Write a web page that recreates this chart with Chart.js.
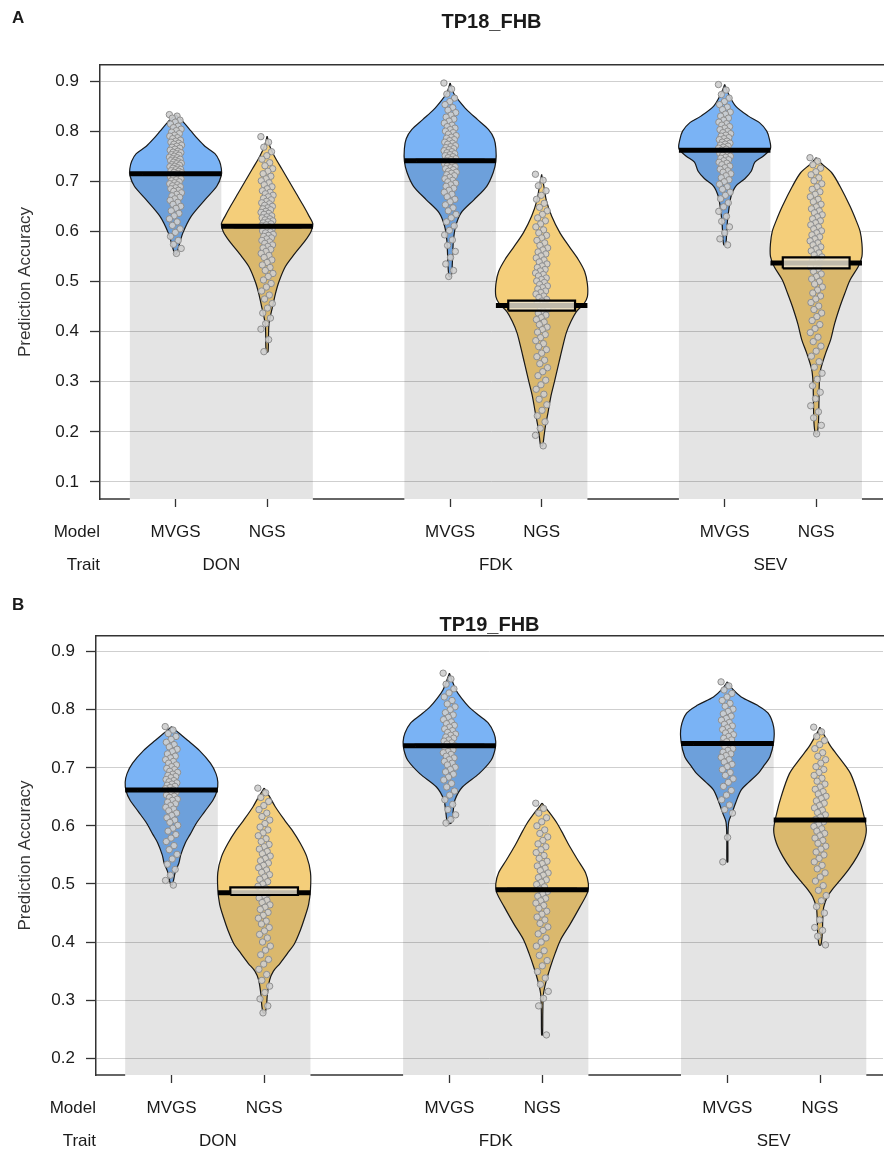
<!DOCTYPE html>
<html lang="en">
<head>
<meta charset="UTF-8">
<title>TP18_FHB / TP19_FHB prediction accuracy</title>
<script src="https://cdn.jsdelivr.net/npm/chart.js"></script>
<style>
  body { margin: 0; background: #fff; }
  canvas { position: absolute; left: 0; }
</style>
</head>
<body>
<canvas id="chartA" width="888" height="590" style="top:0"></canvas>
<canvas id="chartB" width="888" height="560" style="top:590px"></canvas>
<script>
// ---- data ----
const traits = ['DON', 'FDK', 'SEV'];
const models = ['MVGS', 'NGS'];
const rowNames = ['Model', 'Trait'];
const yTicksA = [0.1, 0.2, 0.3, 0.4, 0.5, 0.6, 0.7, 0.8, 0.9];
const yTicksB = [0.2, 0.3, 0.4, 0.5, 0.6, 0.7, 0.8, 0.9];

// means and HDI box (order: DON MVGS, DON NGS, FDK MVGS, FDK NGS, SEV MVGS, SEV NGS)
const meansA = [0.715, 0.610, 0.741, 0.452, 0.762, 0.537];
const boxLowA = [0.7135, 0.6085, 0.7395, 0.442, 0.7605, 0.526];
const boxHighA = [0.7165, 0.6115, 0.7425, 0.462, 0.7635, 0.548];
const meansB = [0.662, 0.485, 0.738, 0.490, 0.742, 0.610];
const boxLowB = [0.6605, 0.481, 0.7365, 0.4885, 0.7405, 0.6085];
const boxHighB = [0.6635, 0.494, 0.7395, 0.4915, 0.7435, 0.6115];

// bean outlines: [accuracy, half width as share of a slot]
const donMvgsA = [[0.833,0],[0.825,0.05],[0.815,0.1],[0.8,0.17],[0.785,0.24],[0.77,0.32],[0.755,0.43],[0.74,0.48],[0.725,0.5],[0.712,0.5],[0.69,0.45],[0.663,0.32],[0.63,0.17],[0.597,0.08],[0.57,0.035],[0.555,0.01]];
const donNgsA = [[0.79,0],[0.77,0.03],[0.75,0.08],[0.725,0.16],[0.7,0.24],[0.675,0.32],[0.65,0.4],[0.63,0.46],[0.615,0.5],[0.6,0.48],[0.58,0.41],[0.555,0.3],[0.53,0.2],[0.5,0.13],[0.475,0.09],[0.45,0.06],[0.43,0.035],[0.415,0.02],[0.39,0.015],[0.36,0.01]];
const fdkMvgsA = [[0.896,0],[0.875,0.04],[0.86,0.1],[0.843,0.18],[0.823,0.3],[0.803,0.42],[0.785,0.48],[0.765,0.5],[0.74,0.5],[0.717,0.47],[0.69,0.4],[0.663,0.26],[0.637,0.12],[0.61,0.06],[0.58,0.035],[0.54,0.025],[0.51,0.012]];
const fdkNgsA = [[0.714,0],[0.69,0.025],[0.663,0.05],[0.63,0.11],[0.597,0.2],[0.57,0.3],[0.544,0.4],[0.52,0.47],[0.495,0.5],[0.47,0.5],[0.455,0.46],[0.44,0.38],[0.42,0.32],[0.398,0.27],[0.37,0.23],[0.339,0.19],[0.3,0.14],[0.27,0.1],[0.239,0.07],[0.21,0.04],[0.19,0.025],[0.172,0.01]];
const sevMvgsA = [[0.893,0],[0.875,0.04],[0.85,0.12],[0.83,0.26],[0.817,0.38],[0.8,0.46],[0.783,0.49],[0.765,0.5],[0.75,0.42],[0.738,0.33],[0.72,0.29],[0.705,0.22],[0.69,0.12],[0.67,0.07],[0.65,0.05],[0.62,0.03],[0.59,0.02],[0.573,0.01]];
const sevNgsA = [[0.747,0],[0.735,0.06],[0.717,0.17],[0.69,0.26],[0.65,0.37],[0.62,0.44],[0.6,0.48],[0.575,0.5],[0.55,0.5],[0.53,0.46],[0.503,0.37],[0.475,0.31],[0.45,0.26],[0.415,0.2],[0.385,0.16],[0.355,0.1],[0.325,0.05],[0.3,0.035],[0.26,0.03],[0.22,0.025],[0.196,0.01]];
const donMvgsB = [[0.771,0],[0.76,0.08],[0.748,0.17],[0.73,0.3],[0.708,0.42],[0.69,0.48],[0.675,0.5],[0.66,0.49],[0.645,0.45],[0.625,0.36],[0.605,0.27],[0.585,0.2],[0.571,0.15],[0.55,0.1],[0.536,0.08],[0.52,0.04],[0.505,0.02],[0.498,0.005]];
const donNgsB = [[0.665,0],[0.65,0.06],[0.633,0.12],[0.61,0.22],[0.593,0.3],[0.57,0.39],[0.547,0.46],[0.52,0.5],[0.49,0.5],[0.465,0.48],[0.443,0.44],[0.42,0.39],[0.398,0.33],[0.38,0.25],[0.363,0.17],[0.35,0.1],[0.335,0.06],[0.31,0.035],[0.29,0.025],[0.278,0.01]];
const fdkMvgsB = [[0.863,0],[0.85,0.03],[0.834,0.07],[0.82,0.13],[0.805,0.21],[0.79,0.32],[0.777,0.42],[0.76,0.48],[0.745,0.5],[0.73,0.49],[0.713,0.45],[0.69,0.32],[0.667,0.14],[0.645,0.06],[0.625,0.04],[0.605,0.02]];
const fdkNgsB = [[0.639,0],[0.625,0.07],[0.605,0.16],[0.585,0.23],[0.564,0.3],[0.54,0.39],[0.519,0.47],[0.5,0.5],[0.485,0.49],[0.461,0.41],[0.43,0.3],[0.404,0.2],[0.38,0.14],[0.357,0.09],[0.33,0.04],[0.31,0.015],[0.28,0.008],[0.24,0.005]];
const sevMvgsB = [[0.848,0],[0.835,0.06],[0.822,0.15],[0.808,0.32],[0.794,0.44],[0.77,0.5],[0.745,0.5],[0.719,0.46],[0.705,0.4],[0.69,0.33],[0.675,0.23],[0.662,0.15],[0.64,0.09],[0.622,0.05],[0.607,0.015],[0.58,0.006],[0.538,0.005]];
const sevNgsB = [[0.77,0],[0.755,0.05],[0.736,0.12],[0.715,0.22],[0.69,0.33],[0.65,0.42],[0.62,0.47],[0.593,0.5],[0.57,0.47],[0.547,0.4],[0.525,0.31],[0.507,0.22],[0.49,0.13],[0.478,0.08],[0.46,0.04],[0.44,0.03],[0.415,0.025],[0.395,0.01]];

// raw accuracies (estimated from the point clouds)
const donMvgsPtsA = [0.833,0.83,0.826,0.822,0.818,0.814,0.81,0.807,0.804,0.801,0.798,0.795,0.792,0.79,0.787,0.785,0.782,0.78,0.778,0.776,0.774,0.772,0.77,0.768,0.766,0.764,0.762,0.76,0.758,0.757,0.755,0.753,0.752,0.75,0.748,0.747,0.745,0.744,0.742,0.741,0.739,0.738,0.736,0.735,0.733,0.732,0.73,0.729,0.727,0.726,0.724,0.723,0.721,0.72,0.718,0.717,0.715,0.714,0.712,0.711,0.709,0.708,0.706,0.705,0.703,0.701,0.699,0.697,0.695,0.693,0.691,0.689,0.687,0.685,0.682,0.68,0.677,0.674,0.671,0.668,0.665,0.662,0.658,0.654,0.65,0.646,0.641,0.636,0.631,0.625,0.619,0.612,0.605,0.598,0.59,0.582,0.574,0.566,0.556];
const donNgsPtsA = [0.789,0.778,0.768,0.759,0.751,0.744,0.737,0.731,0.725,0.72,0.715,0.71,0.705,0.701,0.697,0.693,0.689,0.685,0.681,0.678,0.675,0.672,0.669,0.666,0.663,0.66,0.657,0.655,0.652,0.65,0.647,0.645,0.643,0.64,0.638,0.636,0.634,0.631,0.629,0.627,0.625,0.623,0.621,0.619,0.617,0.615,0.613,0.611,0.609,0.607,0.605,0.603,0.601,0.599,0.597,0.594,0.592,0.59,0.587,0.585,0.582,0.579,0.576,0.573,0.57,0.567,0.564,0.56,0.556,0.552,0.548,0.543,0.538,0.533,0.528,0.522,0.516,0.51,0.503,0.496,0.489,0.481,0.473,0.465,0.456,0.447,0.437,0.427,0.416,0.405,0.384,0.36];
const fdkMvgsPtsA = [0.896,0.884,0.874,0.866,0.859,0.853,0.847,0.842,0.837,0.832,0.828,0.824,0.82,0.816,0.812,0.809,0.806,0.803,0.8,0.797,0.794,0.791,0.788,0.786,0.783,0.781,0.778,0.776,0.774,0.771,0.769,0.767,0.765,0.763,0.761,0.759,0.757,0.755,0.753,0.751,0.749,0.747,0.745,0.743,0.741,0.739,0.737,0.735,0.733,0.731,0.729,0.727,0.725,0.723,0.72,0.718,0.716,0.713,0.711,0.708,0.705,0.702,0.699,0.696,0.693,0.69,0.686,0.682,0.678,0.674,0.669,0.664,0.659,0.653,0.647,0.641,0.634,0.627,0.619,0.611,0.602,0.593,0.583,0.572,0.56,0.548,0.535,0.522,0.51];
const fdkNgsPtsA = [0.714,0.702,0.691,0.681,0.672,0.664,0.656,0.648,0.641,0.634,0.627,0.621,0.615,0.609,0.603,0.597,0.592,0.587,0.582,0.577,0.572,0.567,0.563,0.559,0.555,0.551,0.547,0.543,0.539,0.535,0.531,0.528,0.524,0.521,0.517,0.514,0.511,0.507,0.504,0.501,0.498,0.494,0.491,0.488,0.485,0.481,0.478,0.475,0.471,0.468,0.464,0.461,0.457,0.453,0.449,0.445,0.441,0.437,0.433,0.428,0.424,0.419,0.414,0.409,0.404,0.399,0.394,0.388,0.382,0.376,0.37,0.364,0.357,0.35,0.343,0.336,0.328,0.32,0.312,0.303,0.294,0.285,0.275,0.265,0.254,0.243,0.232,0.22,0.207,0.193,0.172];
const sevMvgsPtsA = [0.893,0.882,0.873,0.866,0.859,0.853,0.848,0.843,0.838,0.834,0.83,0.826,0.822,0.818,0.815,0.812,0.809,0.806,0.803,0.8,0.797,0.795,0.792,0.79,0.787,0.785,0.783,0.78,0.778,0.776,0.774,0.772,0.77,0.768,0.766,0.764,0.762,0.76,0.758,0.756,0.754,0.752,0.75,0.748,0.746,0.743,0.741,0.738,0.736,0.733,0.73,0.727,0.724,0.721,0.718,0.715,0.711,0.707,0.703,0.699,0.694,0.689,0.684,0.678,0.672,0.665,0.657,0.649,0.64,0.63,0.62,0.609,0.597,0.585,0.573];
const sevNgsPtsA = [0.747,0.74,0.733,0.726,0.719,0.713,0.707,0.701,0.695,0.689,0.684,0.679,0.674,0.669,0.664,0.659,0.654,0.649,0.645,0.641,0.637,0.633,0.629,0.625,0.621,0.617,0.613,0.609,0.605,0.601,0.597,0.593,0.589,0.585,0.581,0.577,0.573,0.569,0.565,0.561,0.557,0.553,0.549,0.545,0.541,0.537,0.533,0.529,0.525,0.52,0.515,0.51,0.505,0.5,0.495,0.489,0.483,0.477,0.471,0.465,0.458,0.451,0.444,0.437,0.43,0.422,0.414,0.406,0.398,0.389,0.38,0.371,0.361,0.351,0.34,0.329,0.317,0.305,0.292,0.279,0.266,0.252,0.24,0.228,0.213,0.196];
const donMvgsPtsB = [0.771,0.765,0.759,0.754,0.749,0.744,0.74,0.736,0.732,0.728,0.724,0.72,0.717,0.714,0.711,0.708,0.705,0.702,0.699,0.697,0.694,0.692,0.689,0.687,0.685,0.683,0.68,0.678,0.676,0.674,0.672,0.67,0.668,0.666,0.664,0.662,0.66,0.658,0.656,0.653,0.651,0.649,0.646,0.644,0.641,0.638,0.635,0.632,0.629,0.626,0.622,0.618,0.614,0.61,0.606,0.601,0.596,0.591,0.585,0.579,0.573,0.566,0.559,0.551,0.543,0.534,0.525,0.515,0.506,0.498];
const donNgsPtsB = [0.665,0.657,0.649,0.642,0.635,0.628,0.622,0.616,0.61,0.604,0.598,0.593,0.588,0.583,0.578,0.573,0.568,0.564,0.56,0.556,0.552,0.548,0.544,0.54,0.536,0.532,0.528,0.524,0.52,0.516,0.512,0.508,0.504,0.5,0.496,0.492,0.488,0.484,0.48,0.476,0.472,0.468,0.464,0.46,0.456,0.451,0.446,0.441,0.436,0.431,0.425,0.419,0.413,0.407,0.4,0.393,0.386,0.378,0.37,0.362,0.353,0.344,0.334,0.324,0.313,0.302,0.29,0.278];
const fdkMvgsPtsB = [0.863,0.853,0.844,0.836,0.829,0.822,0.816,0.81,0.805,0.8,0.795,0.791,0.787,0.783,0.779,0.776,0.773,0.77,0.767,0.764,0.761,0.758,0.756,0.753,0.751,0.748,0.746,0.743,0.741,0.738,0.736,0.733,0.731,0.728,0.726,0.723,0.72,0.717,0.714,0.711,0.708,0.705,0.701,0.697,0.693,0.689,0.684,0.679,0.673,0.667,0.66,0.653,0.645,0.637,0.628,0.619,0.611,0.605];
const fdkNgsPtsB = [0.639,0.63,0.622,0.614,0.607,0.6,0.593,0.587,0.581,0.575,0.569,0.564,0.559,0.554,0.549,0.544,0.539,0.535,0.531,0.527,0.523,0.519,0.515,0.511,0.507,0.503,0.499,0.495,0.491,0.487,0.483,0.479,0.475,0.471,0.467,0.463,0.458,0.453,0.448,0.443,0.438,0.432,0.426,0.42,0.414,0.407,0.4,0.393,0.385,0.377,0.368,0.359,0.349,0.338,0.327,0.315,0.303,0.29,0.24];
const sevMvgsPtsB = [0.848,0.841,0.834,0.828,0.822,0.816,0.811,0.806,0.801,0.797,0.793,0.789,0.785,0.782,0.778,0.775,0.772,0.769,0.766,0.763,0.76,0.757,0.754,0.751,0.748,0.745,0.742,0.739,0.736,0.733,0.73,0.727,0.724,0.721,0.718,0.714,0.71,0.706,0.702,0.697,0.692,0.687,0.681,0.675,0.668,0.661,0.653,0.645,0.636,0.628,0.622,0.58,0.538];
const sevNgsPtsB = [0.77,0.762,0.754,0.747,0.74,0.733,0.726,0.72,0.714,0.708,0.702,0.697,0.692,0.687,0.682,0.677,0.672,0.667,0.663,0.659,0.655,0.651,0.647,0.643,0.639,0.635,0.631,0.627,0.623,0.619,0.615,0.611,0.607,0.603,0.599,0.595,0.591,0.587,0.583,0.579,0.575,0.57,0.565,0.56,0.555,0.55,0.544,0.538,0.532,0.526,0.519,0.512,0.505,0.497,0.489,0.48,0.471,0.461,0.45,0.438,0.425,0.42,0.41,0.395];

// ---- look ----
const FONT = '"Liberation Sans", Arial, sans-serif';
const modelColors = ['#7ab3f5', '#f4ce7a'];
const barShade = 'rgba(0,0,0,0.105)';
const ink = '#1a1a1a';
const LINE_H = 33;      // spacing of the Model / Trait rows
const TICK_LEN = 8;
const TICK_PAD = 8.5;

Chart.defaults.font.family = FONT;
Chart.defaults.color = ink;

// one empty slot between the trait groups
const slotOf = (t, m) => t * 3 + m;
const jitter = i => ((i * 0.618034) % 1) * 2 - 1;

function beanOutline(pos, profile) {
    const right = profile.map(([v, w]) => ({x: pos + w, y: v}));
    const left = profile.slice().reverse().filter(([v, w]) => w > 0).map(([v, w]) => ({x: pos - w, y: v}));
    const pts = right.concat(left);
    pts.push(pts[0]);
    return pts;
}

function axisPiece(x0, x1, y) {
    return {label: 'axis', data: [{x: x0, y: y}, {x: x1, y: y}], showLine: true, borderColor: '#333',
            borderWidth: 1.5, pointRadius: 0, clip: false, order: 0};
}

function buildDatasets(p) {
    const sets = [];
    traits.forEach((trait, t) => {
        const p0 = slotOf(t, 0), p1 = slotOf(t, 1);
        const m0 = p.means[t * 2], m1 = p.means[t * 2 + 1];
        sets.push({
            label: trait + ' bars',
            data: [{x: p0 - 0.5, y: p.yMin}, {x: p0 - 0.5, y: m0}, {x: p0 + 0.5, y: m0}, {x: p1 - 0.5, y: m1},
                   {x: p1 + 0.5, y: m1}, {x: p1 + 0.5, y: p.yMin}, {x: p0 - 0.5, y: p.yMin}],
            showLine: true, fill: 'shape', backgroundColor: barShade,
            borderColor: 'transparent', borderWidth: 0, pointRadius: 0, order: 4
        });
        models.forEach((model, m) => {
            const k = t * 2 + m, pos = slotOf(t, m);
            sets.push({
                label: trait + ' ' + model + ' bean',
                data: beanOutline(pos, p.beans[k]),
                showLine: true, fill: 'shape', tension: 0.3,
                backgroundColor: modelColors[m], borderColor: ink, borderWidth: 1.2,
                pointRadius: 0, order: 5
            });
            sets.push({
                label: trait + ' ' + model + ' points',
                data: p.points[k].map((v, i) => ({x: pos + 0.068 * jitter(i), y: v})),
                showLine: false, pointRadius: 3.2, pointBorderWidth: 1,
                pointBackgroundColor: 'rgba(206,206,206,0.9)', pointBorderColor: '#8e8e8e', order: 3
            });
            sets.push({
                label: trait + ' ' + model + ' mean',
                data: [{x: pos - 0.5, y: p.means[k]}, {x: pos + 0.5, y: p.means[k]}],
                showLine: true, borderColor: '#000', borderWidth: 5, pointRadius: 0, order: 2
            });
            sets.push({
                label: trait + ' ' + model + ' HDI',
                data: [{x: pos - 0.365, y: p.lo[k]}, {x: pos + 0.365, y: p.lo[k]}, {x: pos + 0.365, y: p.hi[k]},
                       {x: pos - 0.365, y: p.hi[k]}, {x: pos - 0.365, y: p.lo[k]}],
                showLine: true, fill: 'shape', backgroundColor: 'rgba(240,232,214,0.8)',
                borderColor: '#000', borderWidth: 2.2, pointRadius: 0, order: 1
            });
        });
    });
    // bottom axis line only shows in the gaps between the bars
    let from = p.xMin;
    traits.forEach((trait, t) => {
        sets.push(axisPiece(from, slotOf(t, 0) - 0.5, p.yMin));
        from = slotOf(t, 1) + 0.5;
    });
    sets.push(axisPiece(from, p.xMax, p.yMin));
    return sets;
}

const rowLabels = {
    id: 'rowLabels',
    afterDraw(chart, args, opts) {
        const {ctx, chartArea} = chart;
        const y0 = chartArea.bottom + TICK_LEN + TICK_PAD + LINE_H / 2;
        ctx.save();
        ctx.fillStyle = ink;
        ctx.textBaseline = 'middle';
        ctx.textAlign = 'right';
        ctx.font = '17px ' + FONT;
        ctx.fillText(rowNames[0], chartArea.left, y0);
        ctx.fillText(rowNames[1], chartArea.left, y0 + LINE_H);
        ctx.textAlign = 'left';
        ctx.font = 'bold 17px ' + FONT;
        ctx.fillText(opts.letter, 12, opts.letterY);
        ctx.restore();
    }
};

function makePanel(id, p) {
    const modelTicks = [], labels = new Map();
    traits.forEach((trait, t) => {
        models.forEach((model, m) => { modelTicks.push(slotOf(t, m)); labels.set(slotOf(t, m), model); });
        labels.set(slotOf(t, 0) + 0.5, ['', trait]);
    });
    const xTicks = Array.from(labels.keys()).sort((a, b) => a - b);

    new Chart(document.getElementById(id), {
        type: 'scatter',
        data: {datasets: buildDatasets(p)},
        options: {
            responsive: false,
            animation: false,
            devicePixelRatio: 1,
            layout: {padding: 0},
            plugins: {
                legend: {display: false},
                tooltip: {enabled: false},
                title: {
                    display: true, text: p.title, fullSize: false, color: ink,
                    font: {size: 20, weight: 'bold', lineHeight: 1},
                    padding: {top: p.titleTop, bottom: p.titleBottom}
                },
                rowLabels: {letter: p.letter, letterY: p.letterY}
            },
            scales: {
                x: {
                    type: 'linear', position: 'bottom', min: p.xMin, max: p.xMax,
                    afterBuildTicks: s => { s.ticks = xTicks.map(v => ({value: v})); },
                    afterFit: s => { s.height = p.axisH; },
                    ticks: {
                        autoSkip: false, maxRotation: 0, padding: TICK_PAD, color: ink,
                        font: {size: 17, lineHeight: LINE_H / 17},
                        callback: v => labels.get(v)
                    },
                    grid: {
                        drawOnChartArea: false, drawTicks: true, tickLength: TICK_LEN, tickWidth: 1.3,
                        tickColor: c => (c.tick && modelTicks.includes(c.tick.value)) ? '#333' : 'rgba(0,0,0,0)'
                    },
                    border: {display: false}
                },
                xTop: {
                    type: 'linear', axis: 'x', position: 'top', min: p.xMin, max: p.xMax,
                    afterFit: s => { s.height = 0; },
                    ticks: {display: false},
                    grid: {display: false, drawTicks: false},
                    border: {display: true, color: '#333', width: 1.5}
                },
                y: {
                    type: 'linear', position: 'left', min: p.yMin, max: p.yMax,
                    afterBuildTicks: s => { s.ticks = p.yTicks.map(v => ({value: v})); },
                    afterFit: s => { s.width = p.axisW; },
                    ticks: {padding: 11, color: ink, font: {size: 17}, callback: v => v.toFixed(1)},
                    grid: {color: '#cfcfcf', lineWidth: 1, tickLength: 10, tickColor: '#333', tickWidth: 1.3},
                    border: {display: true, color: '#333', width: 1.5},
                    title: {
                        display: true, text: 'Prediction Accuracy', color: '#333',
                        font: {size: 17, lineHeight: 1.2}, padding: {top: 15, bottom: 0}
                    }
                }
            }
        },
        plugins: [rowLabels]
    });
}

makePanel('chartA', {
    title: 'TP18_FHB', letter: 'A', letterY: 18, titleTop: 12, titleBottom: 33,
    xMin: -0.826, xMax: 7.73, yMin: 0.066, yMax: 0.932, yTicks: yTicksA, axisW: 100, axisH: 91,
    means: meansA, lo: boxLowA, hi: boxHighA,
    beans: [donMvgsA, donNgsA, fdkMvgsA, fdkNgsA, sevMvgsA, sevNgsA],
    points: [donMvgsPtsA, donNgsPtsA, fdkMvgsPtsA, fdkNgsPtsA, sevMvgsPtsA, sevNgsPtsA]
});

makePanel('chartB', {
    title: 'TP19_FHB', letter: 'B', letterY: 15, titleTop: 25, titleBottom: 1,
    xMin: -0.815, xMax: 7.68, yMin: 0.171, yMax: 0.927, yTicks: yTicksB, axisW: 96, axisH: 75,
    means: meansB, lo: boxLowB, hi: boxHighB,
    beans: [donMvgsB, donNgsB, fdkMvgsB, fdkNgsB, sevMvgsB, sevNgsB],
    points: [donMvgsPtsB, donNgsPtsB, fdkMvgsPtsB, fdkNgsPtsB, sevMvgsPtsB, sevNgsPtsB]
});
</script>
</body>
</html>
